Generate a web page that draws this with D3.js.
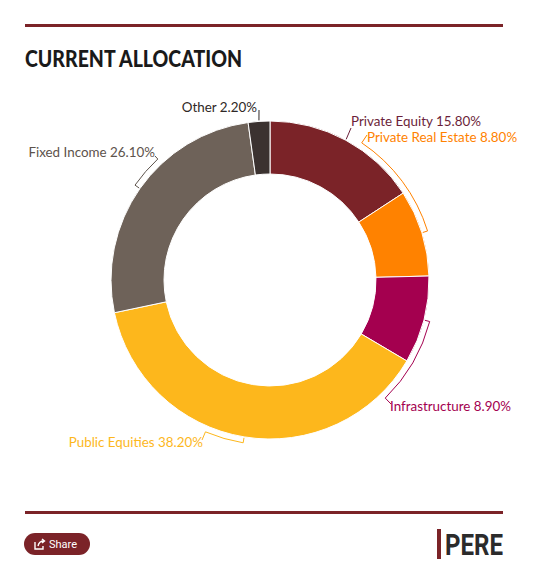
<!DOCTYPE html>
<html><head><meta charset="utf-8">
<script src="https://cdn.jsdelivr.net/npm/d3@7/dist/d3.min.js"></script>
<style>
html,body{margin:0;padding:0;background:#fff;}
svg{display:block;}
</style></head>
<body>
<svg id="chart" width="535" height="572"></svg>
<script>
// ---- data ----
const categories = ["Private Equity","Private Real Estate","Infrastructure","Public Equities","Fixed Income","Other"];
const values = [15.8, 8.8, 8.9, 38.2, 26.1, 2.2];
const colors = ["#7b2328","#ff8200","#a4004f","#fdb71c","#6e6259","#3b3230"];
const labelColors = ["#6b1f3a","#ff8200","#a4004f","#fdb71c","#5d534c","#2f2826"];
const title = "CURRENT ALLOCATION";

// ---- label layout (text position, anchor, connector end point) ----
const labelLayout = {
  "Private Equity":      {tx:351, ty:126, anchor:"start", lx:351, ly:128},
  "Private Real Estate": {tx:367, ty:142, anchor:"start", lx:367, ly:135},
  "Infrastructure":      {tx:390, ty:411, anchor:"start", lx:391, ly:404},
  "Public Equities":     {tx:203, ty:447, anchor:"end",   lx:202, ly:440},
  "Fixed Income":        {tx:155, ty:157, anchor:"end",   lx:155, ly:156},
  "Other":               {tx:257, ty:112, anchor:"end",   lx:259, ly:110}
};

const svg = d3.select("#chart");
const cx = 270, cy = 280, R = 159, r0 = 106, rc = 165;

// rules
svg.append("rect").attr("x",25).attr("y",24).attr("width",478).attr("height",3).attr("fill","#7b2328");
svg.append("rect").attr("x",25).attr("y",511).attr("width",478).attr("height",3).attr("fill","#7b2328");

// title
svg.append("text").attr("x",25).attr("y",67).text(title)
  .attr("font-family","Lato").attr("font-weight",900).attr("font-size",23)
  .attr("textLength",217).attr("lengthAdjust","spacingAndGlyphs").attr("fill","#1a1a1a");

const data = categories.map((c,i)=>({cat:c, value:values[i], color:colors[i], lcolor:labelColors[i]}));
const pie = d3.pie().value(d=>d.value).sort(null);
const arcs = pie(data);
const arcGen = d3.arc().innerRadius(r0).outerRadius(R);

const g = svg.append("g").attr("transform",`translate(${cx},${cy})`);
g.selectAll("path.slice").data(arcs).join("path").attr("class","slice")
  .attr("d",arcGen).attr("fill",d=>d.data.color)
  .attr("stroke","#fff").attr("stroke-width",1);

// connectors
function pt(a, rr){ return [rr*Math.sin(a), -rr*Math.cos(a)]; }
arcs.forEach(d=>{
  const L = labelLayout[d.data.cat];
  const m = (d.startAngle+d.endAngle)/2;
  const lx = L.lx - cx, ly = L.ly - cy;
  let la = Math.atan2(lx, -ly); if (la < 0) la += 2*Math.PI;
  const path = d3.path();
  const p0 = pt(m, R+1);
  path.moveTo(p0[0], p0[1]);
  if (Math.abs(la - m) > 0.08) {
    const p1 = pt(m, rc);
    path.lineTo(p1[0], p1[1]);
    const s = m - Math.PI/2, e = la - Math.PI/2;
    path.arc(0,0,rc,s,e, la < m);
  }
  path.lineTo(lx, ly);
  g.append("path").attr("d",path.toString()).attr("fill","none")
    .attr("stroke",d.data.lcolor).attr("stroke-width",1);
});

// labels
arcs.forEach(d=>{
  const L = labelLayout[d.data.cat];
  svg.append("text").attr("x",L.tx).attr("y",L.ty).attr("text-anchor",L.anchor)
    .attr("font-family","Lato").attr("font-size",13.4).attr("fill",d.data.lcolor)
    .text(`${d.data.cat} ${d.data.value.toFixed(2)}%`);
});

// share button
const sb = svg.append("g");
sb.append("rect").attr("x",24).attr("y",533).attr("width",66).attr("height",22).attr("rx",11).attr("fill","#7b2328");
sb.append("path").attr("d","M35 542 v7 h8 v-3 M38 546 q1 -5 6 -5 M42 539 l2.5 2 l-2.5 2")
  .attr("fill","none").attr("stroke","#fff").attr("stroke-width",1.4);
sb.append("text").attr("x",49).attr("y",548).text("Share")
  .attr("font-family","Roboto").attr("font-size",11).attr("fill","#fff");

// PERE logo
svg.append("rect").attr("x",437).attr("y",529).attr("width",4).attr("height",30).attr("fill","#7b2328");
svg.append("text").attr("x",445).attr("y",555).text("PERE")
  .attr("font-family","Roboto").attr("font-weight",700).attr("font-size",30)
  .attr("textLength",58).attr("lengthAdjust","spacingAndGlyphs").attr("fill","#2b2b2b");
</script>
</body></html>
